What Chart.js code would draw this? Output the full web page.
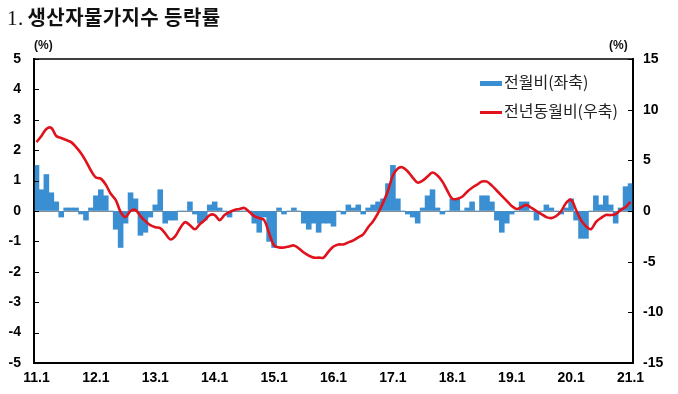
<!DOCTYPE html>
<html>
<head>
<meta charset="utf-8">
<script src="https://cdn.jsdelivr.net/npm/chart.js@4.4.1/dist/chart.umd.min.js"></script>
<style>
  body { margin: 0; background: #fff; }
  #wrap { position: relative; width: 678px; height: 394px; }
  canvas { position: absolute; left: 0; top: 0; }
  .txt { position: absolute; white-space: nowrap; color: #111; }
  #title { left: 7px; top: 2px; font: bold 20px "Noto Sans CJK KR", sans-serif; letter-spacing: 0.4px; }
  #title span { font-family: "Liberation Serif", serif; font-weight: normal; font-size: 21px; margin-right: 4px; }
  .unit { top: 38px; font: bold 12px "Liberation Sans", Arial, sans-serif; }
  .leg { left: 480px; font: 16px "Noto Sans CJK KR", sans-serif; color: #222; }
  .sw { display: inline-block; width: 22px; vertical-align: middle; margin-right: 2px; }
</style>
</head>
<body>
<div id="wrap">
  <canvas id="myChart" width="678" height="394"></canvas>
  <div id="title" class="txt"><span>1.</span>생산자물가지수 등락률</div>
  <div class="txt unit" style="left:34px">(%)</div>
  <div class="txt unit" style="left:609px">(%)</div>
  <div class="txt leg" style="top:69px"><span class="sw" style="height:5px;background:#3a8fd2"></span>전월비(좌축)</div>
  <div class="txt leg" style="top:98px"><span class="sw" style="height:3px;background:#e0121b"></span>전년동월비(우축)</div>
</div>
<script>
// 2011.1 ~ 2021.1 monthly
const years = [11, 12, 13, 14, 15, 16, 17, 18, 19, 20, 21]

// 전월비 (%), left axis
const momChange = [
    1.5, 0.7, 1.2, 0.6, 0.3, -0.2, 0.1, 0.1, 0.1, -0.1, -0.3, 0.1,
    0.5, 0.7, 0.5, 0.0, -0.6, -1.2, -0.4, 0.6, 0.4, -0.8, -0.7, -0.2,
    0.2, 0.7, -0.4, -0.3, -0.3, 0.0, 0.0, 0.3, -0.1, -0.4, -0.3, 0.2,
    0.3, 0.1, 0.0, -0.2, 0.0, 0.0, 0.0, 0.0, -0.4, -0.7, -0.2, -1.0,
    -1.2, 0.1, -0.1, 0.0, 0.1, 0.0, -0.4, -0.6, -0.4, -0.7, -0.4, -0.4,
    -0.5, 0.0, -0.1, 0.2, 0.1, 0.2, -0.1, 0.1, 0.2, 0.3, 0.4, 0.9,
    1.5, 0.4, 0.0, -0.1, -0.2, -0.4, 0.1, 0.5, 0.7, 0.1, -0.1, 0.0,
    0.4, 0.4, 0.0, 0.1, 0.3, 0.0, 0.5, 0.5, 0.3, -0.3, -0.7, -0.4,
    -0.1, 0.0, 0.3, 0.3, 0.0, -0.3, 0.0, 0.2, 0.1, 0.0, -0.1, 0.1,
    0.4, -0.3, -0.9, -0.9, 0.0, 0.5, 0.2, 0.5, 0.2, -0.4, 0.1, 0.8,
    0.9
]

// 전년동월비 (%), right axis
const yoyChange = [
    6.8, 7.4, 8.1, 8.2, 7.4, 7.2, 7.0, 6.8, 6.3, 5.7, 4.9, 4.0,
    3.3, 3.2, 2.6, 1.7, 1.1, -0.1, -0.6, 0.0, 0.1, -0.5, -1.0, -1.4,
    -1.6, -1.7, -2.2, -2.8, -2.5, -1.7, -1.1, -1.4, -1.8, -1.3, -0.9, -0.4,
    -0.4, -0.9, -0.4, -0.1, 0.1, 0.2, 0.3, -0.1, -0.5, -0.7, -0.9, -2.2,
    -3.4, -3.6, -3.6, -3.5, -3.4, -3.7, -4.1, -4.4, -4.6, -4.6, -4.6, -4.0,
    -3.5, -3.3, -3.3, -3.1, -2.9, -2.6, -2.3, -1.6, -1.0, -0.2, 0.8, 2.0,
    3.5, 4.2, 4.3, 3.9, 3.3, 2.8, 3.0, 3.4, 3.8, 3.5, 2.9, 2.0,
    1.2, 1.2, 1.4, 1.9, 2.3, 2.6, 2.9, 2.9, 2.5, 2.0, 1.5, 1.0,
    0.5, 0.2, 0.4, 0.6, 0.3, 0.0, -0.3, -0.6, -0.7, -0.5, 0.0, 0.8,
    1.1, 0.1, -0.9, -1.5, -1.8, -1.1, -0.7, -0.4, -0.4, -0.3, 0.1, 0.4,
    0.9
]

const leftTicks = [-5, -4, -3, -2, -1, 0, 1, 2, 3, 4, 5]
const rightTicks = [-15, -10, -5, 0, 5, 10, 15]

const months = []
for (const y of years) {
    for (let m = 1; m <= 12; m++) {
        if (months.length < momChange.length) months.push(y + '.' + m)
    }
}

const blue = '#3a8fd2'
const red = '#e0121b'
const tickFont = { family: '"Liberation Sans", Arial, sans-serif', size: 14, weight: 'bold' }

// frame + inward tick marks
const framePlugin = {
    id: 'frame',
    afterDraw(chart) {
        const { ctx, chartArea: a, scales } = chart
        ctx.save()
        ctx.strokeStyle = '#000'
        ctx.lineWidth = 1.5
        ctx.strokeRect(a.left, a.top, a.right - a.left, a.bottom - a.top)
        ctx.lineWidth = 1
        ctx.beginPath()
        for (const v of leftTicks) {
            const py = Math.round(scales.y.getPixelForValue(v)) + 0.5
            ctx.moveTo(a.left, py); ctx.lineTo(a.left + 5, py)
        }
        for (const v of rightTicks) {
            const py = Math.round(scales.y1.getPixelForValue(v)) + 0.5
            ctx.moveTo(a.right - 5, py); ctx.lineTo(a.right, py)
        }
        ctx.stroke()
        ctx.restore()
    }
}

const ctx = document.getElementById('myChart')
new Chart(ctx, {
    data: {
        labels: months,
        datasets: [
            {
                type: 'line',
                label: '전년동월비(우축)',
                data: yoyChange,
                yAxisID: 'y1',
                borderColor: red,
                borderWidth: 2.6,
                pointRadius: 0,
                tension: 0.35,
                order: 0
            },
            {
                type: 'bar',
                label: '전월비(좌축)',
                data: momChange,
                yAxisID: 'y',
                backgroundColor: blue,
                barPercentage: 1,
                categoryPercentage: 1,
                order: 1
            }
        ]
    },
    options: {
        responsive: false,
        animation: false,
        layout: { padding: { top: 59, left: 0, right: 0, bottom: 0 } },
        plugins: { legend: { display: false }, tooltip: { enabled: false } },
        scales: {
            x: {
                grid: { display: false, drawTicks: false },
                border: { display: true, color: '#000', width: 2 },
                ticks: {
                    autoSkip: false,
                    maxRotation: 0,
                    padding: 7,
                    color: '#000',
                    font: tickFont,
                    callback: (v, i) => (i % 12 === 0 ? months[i] : '')
                },
                afterFit: s => { s.height = 31 }
            },
            y: {
                position: 'left',
                min: -5,
                max: 5,
                afterBuildTicks: s => { s.ticks = leftTicks.map(v => ({ value: v })) },
                grid: {
                    drawTicks: false,
                    color: c => (c.tick && c.tick.value === 0 ? '#8c8c8c' : 'rgba(0,0,0,0)'),
                    lineWidth: 1
                },
                border: { display: true, color: '#000', width: 2 },
                ticks: { padding: 13, color: '#000', font: tickFont },
                afterFit: s => { s.width = 34 }
            },
            y1: {
                position: 'right',
                min: -15,
                max: 15,
                afterBuildTicks: s => { s.ticks = rightTicks.map(v => ({ value: v })) },
                grid: { display: false, drawTicks: false },
                border: { display: true, color: '#000', width: 2 },
                ticks: { padding: 10, color: '#000', font: tickFont },
                afterFit: s => { s.width = 45 }
            }
        }
    },
    plugins: [framePlugin]
})
</script>
</body>
</html>
